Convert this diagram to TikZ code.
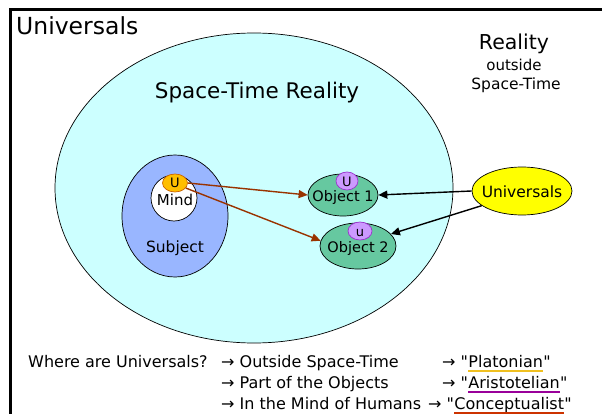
\documentclass[tikz,border=0pt]{standalone}
\usepackage{fontspec}
\setmainfont{DejaVu Sans}[Ligatures=TeXOff]
\usetikzlibrary{shapes.geometric,arrows.meta}
\definecolor{spacecyan}{RGB}{204,255,255}
\definecolor{subjblue}{RGB}{153,182,255}
\definecolor{objgreen}{RGB}{102,200,160}
\definecolor{uorange}{RGB}{255,190,0}
\definecolor{uborder}{RGB}{204,102,0}
\definecolor{upurple}{RGB}{204,153,255}
\definecolor{upborder}{RGB}{153,51,204}
\definecolor{univyellow}{RGB}{255,255,0}
\definecolor{brownarrow}{RGB}{153,51,0}
\definecolor{platgold}{RGB}{240,192,32}
\definecolor{aristpurple}{RGB}{153,0,153}
\definecolor{concred}{RGB}{204,51,0}
\newcommand\fsz[1]{\fontsize{#1}{#1}\selectfont}
\newcommand\dq{\symbol{34}}
\begin{document}
\begin{tikzpicture}[x=1pt,y=-1pt,
  blob/.style={ellipse, draw=black, line width=0.7pt, inner sep=0pt},
  txt/.style={inner sep=0pt, anchor=base west},
  ctxt/.style={inner sep=0pt, anchor=base},
  arr/.style={line width=1.4pt, -{Triangle[length=9pt,width=8pt]}},
  uline/.style={line width=1.3pt}
]
\useasboundingbox (0,0) rectangle (602,414);
\fill[white] (0,0) rectangle (602,414);
\draw[line width=2.5pt] (10.5,414) -- (10.5,9.5) -- (602,9.5);

\node[txt] (title) at (16,35) {\fsz{23.5}Universals};

% space-time reality
\node[blob, fill=spacecyan, minimum width=398pt, minimum height=310pt] (st) at (254,188) {};
\node[ctxt] (stlabel) at (257,99) {\fsz{21.5}Space-Time Reality};

\node[ctxt] (real1) at (514,50) {\fsz{20.5}Reality};
\node[ctxt] (real2) at (514,71) {\fsz{15}outside};
\node[ctxt] (real3) at (516,90) {\fsz{15.5}Space-Time};

% subject
\node[blob, fill=subjblue, minimum width=106pt, minimum height=122pt] (subj) at (175,216) {};
\node[ctxt] (subjlabel) at (175,252) {\fsz{15.5}Subject};
\node[circle, draw=black, line width=0.7pt, fill=white, minimum size=46pt, inner sep=0pt] (mind) at (174,198) {};
\node[ctxt] (mindlabel) at (175,205) {\fsz{15}Mind};
\node[blob, draw=uborder, fill=uorange, minimum width=25pt, minimum height=18pt] (uM) at (175,183) {};
\node[ctxt] (uMl) at (175,188) {\fsz{13}U};

% objects
\node[blob, fill=objgreen, minimum width=70pt, minimum height=42pt] (o1) at (343,195) {};
\node[blob, draw=upborder, fill=upurple, minimum width=22pt, minimum height=18pt] (u1) at (347,181) {};
\node[ctxt] (u1l) at (347,186) {\fsz{13}U};
\node[ctxt] (o1l) at (343,202) {\fsz{14.5}Object 1};

\node[blob, fill=objgreen, minimum width=76pt, minimum height=46pt] (o2) at (358,246) {};
\node[blob, draw=upborder, fill=upurple, minimum width=24pt, minimum height=18pt] (u2) at (360,231) {};
\node[ctxt] (u2l) at (360,236) {\fsz{13}u};
\node[ctxt] (o2l) at (358,252) {\fsz{14.5}Object 2};

% universals
\node[blob, fill=univyellow, minimum width=100pt, minimum height=48pt] (univ) at (522,191) {};
\node[ctxt] (univl) at (522,197) {\fsz{15.5}Universals};

% arrows
\draw[arr, brownarrow] (uM.east) -- (o1.west);
\draw[arr, brownarrow] (uM.-25) -- (o2.172);
\draw[arr] (univ.west) -- (o1.east);
\draw[arr] (univ.200) -- (o2.20);

% bottom text
\begin{scope}[every node/.append style={font=\fsz{16}}]
\node[txt] (q) at (28,367) {Where are Universals?};
\node[txt] (a1) at (221,367) {→ Outside Space-Time};
\node[txt] (a2) at (221,388) {→ Part of the Objects};
\node[txt] (a3) at (221,409) {→ In the Mind of Humans};
\node[txt] (b1) at (442,367) {→ \dq};
\node[txt] (w1) at (b1.base east) {Platonian};
\node[txt] (c1) at (w1.base east) {\dq};
\node[txt] (b2) at (442,388) {→ \dq};
\node[txt] (w2) at (b2.base east) {Aristotelian};
\node[txt] (c2) at (w2.base east) {\dq};
\node[txt] (b3) at (428,409) {→ \dq};
\node[txt] (w3) at (b3.base east) {Conceptualist};
\node[txt] (c3) at (w3.base east) {\dq};
\end{scope}
\draw[uline, platgold] ([yshift=-4pt]w1.base west) -- ([yshift=-4pt]w1.base east);
\draw[uline, aristpurple] ([yshift=-4pt]w2.base west) -- ([yshift=-4pt]w2.base east);
\draw[uline, concred] ([yshift=-4pt]w3.base west) -- ([yshift=-4pt]w3.base east);
\end{tikzpicture}
\end{document}
